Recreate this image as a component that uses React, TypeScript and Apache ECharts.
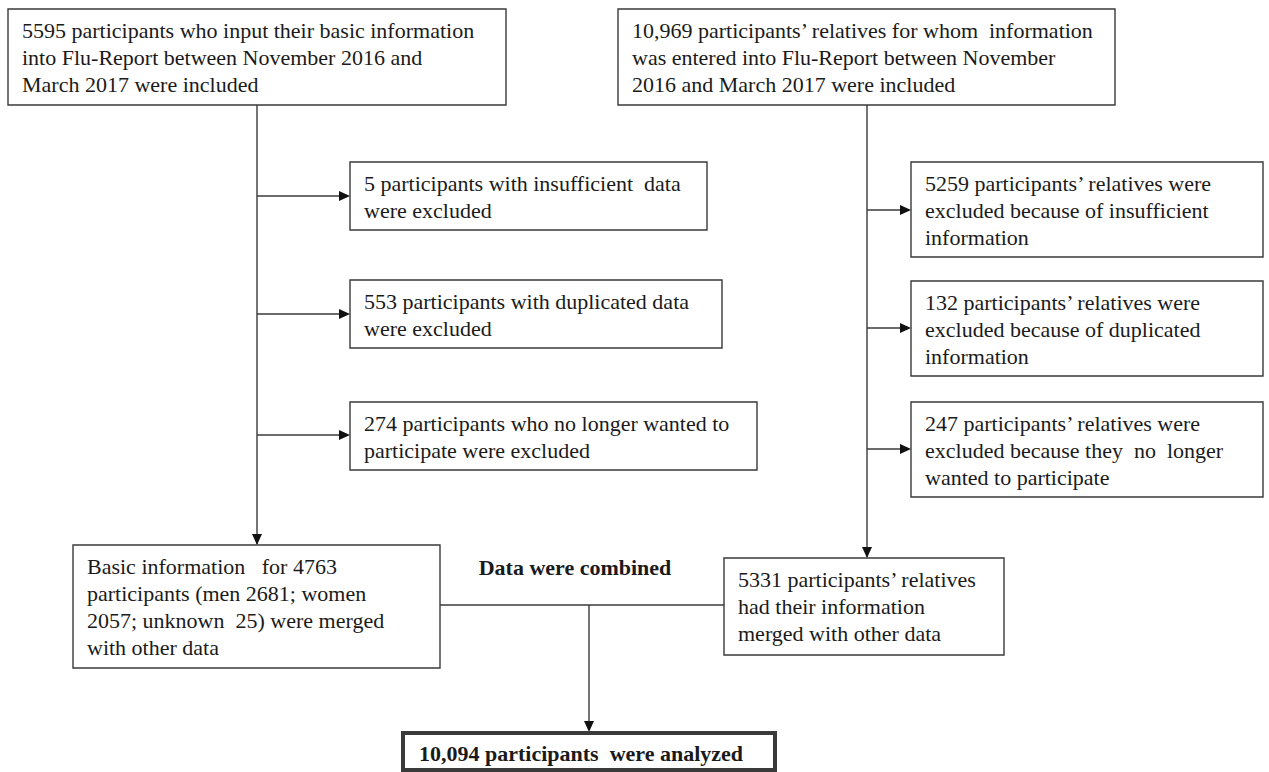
import React, { useEffect, useRef } from "react";
import * as echarts from "echarts";

// ---- content (texts and counts) ----
const sourceTexts = [
  "5595 participants who input their basic information\ninto Flu-Report between November 2016 and\nMarch 2017 were included",
  "10,969 participants’ relatives for whom  information\nwas entered into Flu-Report between November\n2016 and March 2017 were included",
];
const leftExclusions = [
  "5 participants with insufficient  data\nwere excluded",
  "553 participants with duplicated data\nwere excluded",
  "274 participants who no longer wanted to\nparticipate were excluded",
];
const rightExclusions = [
  "5259 participants’ relatives were\nexcluded because of insufficient\ninformation",
  "132 participants’ relatives were\nexcluded because of duplicated\ninformation",
  "247 participants’ relatives were\nexcluded because they  no  longer\nwanted to participate",
];
const mergedTexts = [
  "Basic information   for 4763\nparticipants (men 2681; women\n2057; unknown  25) were merged\nwith other data",
  "5331 participants’ relatives\nhad their information\nmerged with other data",
];
const combineLabel = "Data were combined";
const finalText = "10,094 participants  were analyzed";

// ---- layout (positions / sizes) ----
type Box = { x: number; y: number; w: number; h: number };
const srcBoxes: Box[] = [
  { x: 8, y: 9, w: 498, h: 96 },
  { x: 618, y: 9, w: 497, h: 96 },
];
const leftExBoxes: Box[] = [
  { x: 350, y: 162, w: 357, h: 68 },
  { x: 350, y: 280, w: 372, h: 68 },
  { x: 350, y: 402, w: 407, h: 68 },
];
const rightExBoxes: Box[] = [
  { x: 911, y: 162, w: 352, h: 95 },
  { x: 911, y: 281, w: 352, h: 95 },
  { x: 911, y: 402, w: 352, h: 95 },
];
const mergedBoxes: Box[] = [
  { x: 73, y: 545, w: 367, h: 123 },
  { x: 724, y: 558, w: 280, h: 97 },
];
const finalBox: Box = { x: 403, y: 733, w: 372, h: 37 };

const LINE = "#3a3a3a";
const TEXT = "#1a1a1a";
const FONT = '"Liberation Serif", "Times New Roman", serif';
const FS = 22;
const LH = 27;

function rectEl(b: Box, lw = 1.4): any {
  return {
    type: "rect",
    shape: { x: b.x, y: b.y, width: b.w, height: b.h },
    style: { fill: "#ffffff", stroke: LINE, lineWidth: lw },
  };
}
function textEl(b: Box, text: string, bold = false): any {
  return {
    type: "text",
    x: b.x + 14,
    y: b.y + 7.5,
    style: {
      text,
      fontSize: FS,
      fontFamily: FONT,
      fontWeight: bold ? "bold" : "normal",
      fill: TEXT,
      lineHeight: LH,
      align: "left",
      verticalAlign: "top",
    },
  };
}
function lineEl(x1: number, y1: number, x2: number, y2: number): any {
  return {
    type: "line",
    shape: { x1, y1, x2, y2 },
    style: { stroke: LINE, lineWidth: 1.4 },
  };
}
function arrowRight(x: number, y: number): any {
  return {
    type: "polygon",
    shape: { points: [[x, y], [x - 11, y - 5], [x - 11, y + 5]] },
    style: { fill: "#111" },
  };
}
function arrowDown(x: number, y: number): any {
  return {
    type: "polygon",
    shape: { points: [[x, y], [x - 5, y - 11], [x + 5, y - 11]] },
    style: { fill: "#111" },
  };
}

export default function App() {
  const ref = useRef<HTMLDivElement>(null);
  useEffect(() => {
    document.body.style.margin = "0";
    if (!ref.current) return;
    const chart = echarts.init(ref.current, undefined, { renderer: "svg" });
    const els: any[] = [];

    // source boxes
    srcBoxes.forEach((b, i) => {
      els.push(rectEl(b));
      els.push(textEl(b, sourceTexts[i]));
    });

    // left trunk
    const lx = 257;
    els.push(lineEl(lx, srcBoxes[0].y + srcBoxes[0].h, lx, mergedBoxes[0].y - 1));
    els.push(arrowDown(lx, mergedBoxes[0].y));
    const leftArrowY = [196, 314, 435];
    leftExBoxes.forEach((b, i) => {
      els.push(rectEl(b));
      els.push(textEl(b, leftExclusions[i]));
      els.push(lineEl(lx, leftArrowY[i], b.x - 2, leftArrowY[i]));
      els.push(arrowRight(b.x, leftArrowY[i]));
    });

    // right trunk
    const rx = 867;
    els.push(lineEl(rx, srcBoxes[1].y + srcBoxes[1].h, rx, mergedBoxes[1].y - 1));
    els.push(arrowDown(rx, mergedBoxes[1].y));
    const rightArrowY = [210, 328, 449];
    rightExBoxes.forEach((b, i) => {
      els.push(rectEl(b));
      els.push(textEl(b, rightExclusions[i]));
      els.push(lineEl(rx, rightArrowY[i], b.x - 2, rightArrowY[i]));
      els.push(arrowRight(b.x, rightArrowY[i]));
    });

    // merged boxes
    mergedBoxes.forEach((b, i) => {
      els.push(rectEl(b));
      els.push(textEl(b, mergedTexts[i]));
    });

    // combine connector
    const cy = 605;
    const cx = 589;
    els.push(lineEl(mergedBoxes[0].x + mergedBoxes[0].w, cy, mergedBoxes[1].x, cy));
    els.push(lineEl(cx, cy, cx, finalBox.y - 3));
    els.push(arrowDown(cx, finalBox.y - 1));
    els.push({
      type: "text",
      x: 575,
      y: 567,
      style: {
        text: combineLabel,
        fontSize: FS,
        fontFamily: FONT,
        fontWeight: "bold",
        fill: TEXT,
        align: "center",
        verticalAlign: "middle",
      },
    });

    // final box
    els.push(rectEl(finalBox, 4));
    els.push({
      type: "text",
      x: 419,
      y: 753,
      style: {
        text: finalText,
        fontSize: FS,
        fontFamily: FONT,
        fontWeight: "bold",
        fill: TEXT,
        align: "left",
        verticalAlign: "middle",
      },
    });

    chart.setOption({
      animation: false,
      backgroundColor: "#ffffff",
      graphic: { elements: els },
    });
    return () => chart.dispose();
  }, []);
  return <div ref={ref} style={{ width: 1269, height: 772 }} />;
}
